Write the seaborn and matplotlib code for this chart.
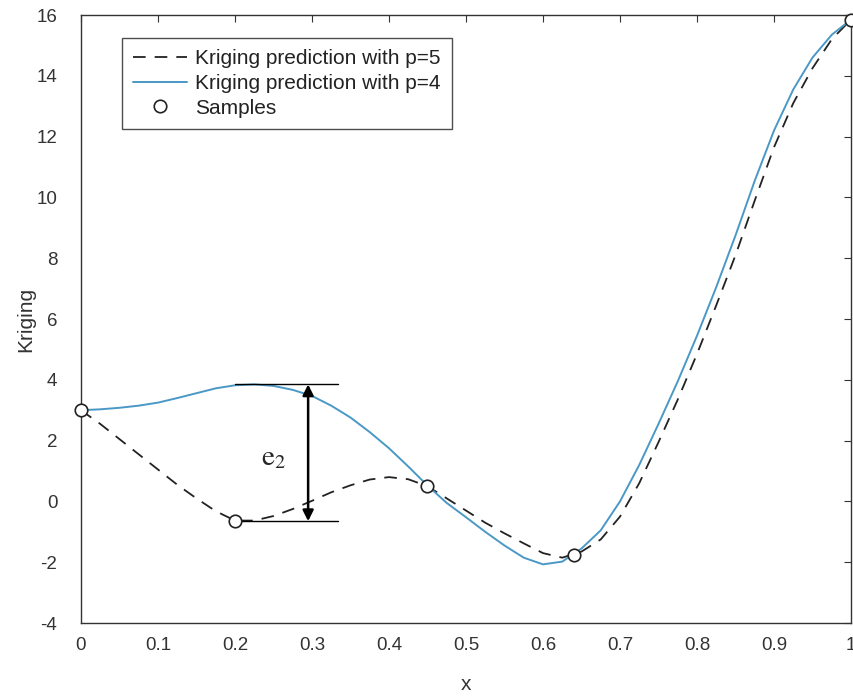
import numpy as np
import pandas as pd
import seaborn as sns
import matplotlib
matplotlib.use("Agg")
import matplotlib.pyplot as plt

# ---- data ----
x_grid = [0.000, 0.025, 0.050, 0.075, 0.100, 0.125, 0.150, 0.175, 0.200, 0.225,
          0.250, 0.275, 0.300, 0.325, 0.350, 0.375, 0.400, 0.425, 0.450, 0.475,
          0.500, 0.525, 0.550, 0.575, 0.600, 0.625, 0.650, 0.675, 0.700, 0.725,
          0.750, 0.775, 0.800, 0.825, 0.850, 0.875, 0.900, 0.925, 0.950, 0.975, 1.000]

pred_p4 = [3.00, 3.03, 3.08, 3.15, 3.25, 3.40, 3.56, 3.72, 3.82, 3.85,
           3.80, 3.67, 3.47, 3.15, 2.76, 2.28, 1.75, 1.15, 0.52, -0.05,
           -0.52, -1.00, -1.45, -1.85, -2.07, -1.98, -1.55, -0.95, 0.00, 1.20,
           2.55, 3.95, 5.45, 7.05, 8.75, 10.55, 12.20, 13.55, 14.60, 15.35, 15.85]

pred_p5 = [3.00, 2.55, 2.05, 1.55, 1.05, 0.55, 0.10, -0.32, -0.63, -0.63,
           -0.48, -0.25, 0.02, 0.30, 0.53, 0.72, 0.80, 0.73, 0.50, 0.10,
           -0.30, -0.70, -1.05, -1.38, -1.70, -1.85, -1.65, -1.25, -0.50, 0.60,
           1.95, 3.35, 4.85, 6.45, 8.10, 9.90, 11.65, 13.10, 14.25, 15.20, 15.85]

sample_x = [0.0, 0.2, 0.45, 0.64, 1.0]
sample_y = [3.0, -0.65, 0.5, -1.75, 15.85]

label_p5 = "Kriging prediction with p=5"
label_p4 = "Kriging prediction with p=4"
label_samples = "Samples"
x_ticks = [0, 0.1, 0.2, 0.3, 0.4, 0.5, 0.6, 0.7, 0.8, 0.9, 1]
x_tick_labels = ["0", "0.1", "0.2", "0.3", "0.4", "0.5", "0.6", "0.7", "0.8", "0.9", "1"]
y_ticks = [-4, -2, 0, 2, 4, 6, 8, 10, 12, 14, 16]
y_tick_labels = ["-4", "-2", "0", "2", "4", "6", "8", "10", "12", "14", "16"]

# e2 annotation
e2_x = 0.295
e2_top = 3.85
e2_bottom = -0.65

# ---- plotting ----
sns.set_theme(style="white")
plt.rcParams['font.family'] = ['Liberation Sans', 'DejaVu Sans']
plt.rcParams['mathtext.fontset'] = 'stix'
plt.rcParams['axes.unicode_minus'] = False

fig = plt.figure(figsize=(8.54, 6.98), dpi=100)
ax = fig.add_axes([0.0948, 0.1074, 0.9017, 0.8711])

df = pd.DataFrame({"x": x_grid, "p4": pred_p4, "p5": pred_p5})
samples = pd.DataFrame({"x": sample_x, "y": sample_y})

sns.lineplot(data=df, x="x", y="p5", ax=ax, color="#222222", lw=1.3,
             label=label_p5)
ax.lines[-1].set_dashes((7, 5))
sns.lineplot(data=df, x="x", y="p4", ax=ax, color="#4a98c6", lw=1.4,
             label=label_p4)
ax.plot(samples["x"], samples["y"], ls="none", marker="o", ms=9,
        mfc="white", mec="#222222", mew=1.2, label=label_samples,
        zorder=5, clip_on=False)

# e2 annotation lines/arrow
ax.plot([0.2, 0.334], [e2_top, e2_top], color="black", lw=1.0)
ax.plot([0.2, 0.334], [e2_bottom, e2_bottom], color="black", lw=1.0)
ax.annotate("", xy=(e2_x, e2_top), xytext=(e2_x, e2_bottom),
            arrowprops=dict(arrowstyle="<|-|>", color="black", lw=1.8,
                            mutation_scale=16, shrinkA=0, shrinkB=0))
ax.text(0.25, 1.45, r"$\mathrm{e}_2$", fontsize=21, ha="center", va="center")

ax.set_xlim(0, 1)
ax.set_ylim(-4, 16)
ax.set_xticks(x_ticks)
ax.set_xticklabels(x_tick_labels)
ax.set_yticks(y_ticks)
ax.set_yticklabels(y_tick_labels)
ax.tick_params(direction="in", top=True, right=True, length=5, width=0.8,
               colors="#333333", labelsize=13.5, labelcolor="#333333")
ax.tick_params(axis="x", pad=10)
ax.tick_params(axis="y", pad=17)
for s in ax.spines.values():
    s.set_color("#333333")
    s.set_linewidth(1.0)
    s.set_visible(True)

ax.set_xlabel("x", fontsize=15, color="#333333", labelpad=15)
ax.set_ylabel("Kriging", fontsize=15, color="#333333", labelpad=1)

leg = ax.legend(loc="upper left", bbox_to_anchor=(0.053, 0.963), fontsize=15,
                frameon=True, fancybox=False, edgecolor="#222222",
                handlelength=2.6, handletextpad=0.35, borderpad=0.55,
                labelspacing=0.28, borderaxespad=0)
leg.get_frame().set_linewidth(1.0)
for t in leg.get_texts():
    t.set_color("#222222")

fig.savefig("out.png", dpi=100)
